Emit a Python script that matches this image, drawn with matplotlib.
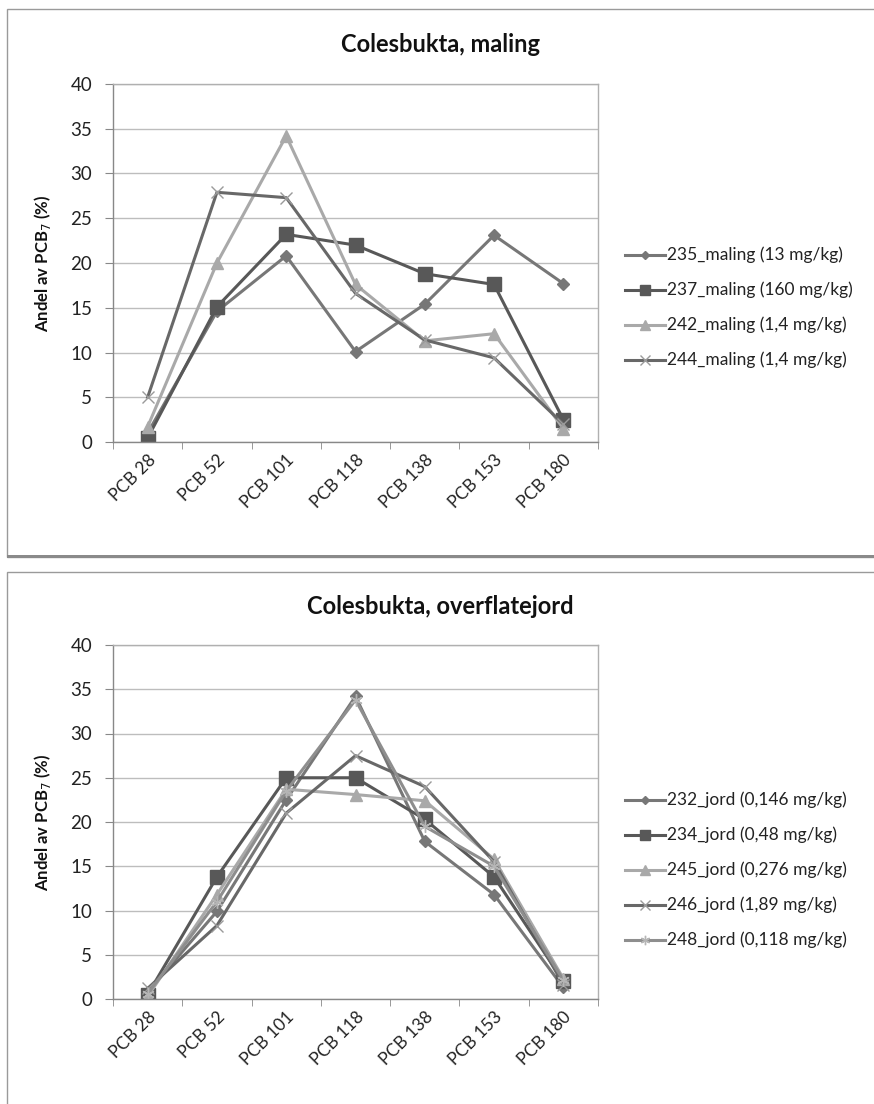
import matplotlib
matplotlib.use("Agg")
import matplotlib.pyplot as plt
from matplotlib.patches import Rectangle
from matplotlib.lines import Line2D

plt.rcParams['font.family'] = ['Lato', 'DejaVu Sans']

categories = ["PCB 28", "PCB 52", "PCB 101", "PCB 118", "PCB 138", "PCB 153", "PCB 180"]

# Top chart: Colesbukta, maling
maling_labels = ["235_maling (13 mg/kg)", "237_maling (160 mg/kg)",
                 "242_maling (1,4 mg/kg)", "244_maling (1,4 mg/kg)"]
m235 = [1.0, 14.6, 20.8, 10.1, 15.4, 23.1, 17.7]
m237 = [0.45, 15.1, 23.2, 22.0, 18.8, 17.6, 2.5]
m242 = [1.7, 20.0, 34.2, 17.6, 11.3, 12.1, 1.5]
m244 = [5.0, 27.9, 27.3, 16.6, 11.4, 9.4, 2.0]

# Bottom chart: Colesbukta, overflatejord
jord_labels = ["232_jord (0,146 mg/kg)", "234_jord (0,48 mg/kg)",
               "245_jord (0,276 mg/kg)", "246_jord (1,89 mg/kg)",
               "248_jord (0,118 mg/kg)"]
j232 = [0.8, 9.9, 22.5, 34.2, 17.8, 11.8, 1.3]
j234 = [0.5, 13.8, 25.0, 25.0, 20.3, 13.8, 2.0]
j245 = [0.3, 11.8, 23.7, 23.1, 22.4, 15.8, 2.3]
j246 = [1.2, 8.3, 21.0, 27.5, 24.0, 15.5, 1.6]
j248 = [0.6, 11.0, 23.5, 33.8, 19.5, 15.0, 2.1]

W, H = 874, 1104
fig = plt.figure(figsize=(W / 100, H / 100), dpi=100)

# chart frames
fig.patches.append(Rectangle((7 / W, 1 - 557 / H), 880 / W, (557 - 9) / H,
                             transform=fig.transFigure, fill=False,
                             edgecolor='#9a9a9a', lw=1.0))
fig.patches.append(Rectangle((7 / W, 1 - 558 / H), 880 / W, 3 / H,
                             transform=fig.transFigure, fill=True,
                             facecolor='#8a8a8a', edgecolor='none'))
fig.patches.append(Rectangle((7 / W, -0.01), 880 / W, 1 - 572 / H + 0.01,
                             transform=fig.transFigure, fill=False,
                             edgecolor='#9a9a9a', lw=1.0))

styles_top = [
    dict(color='#777777', marker='D', ms=6, mfc='#777777', mec='#777777'),
    dict(color='#585858', marker='s', ms=10, mfc='#585858', mec='#585858'),
    dict(color='#a9a9a9', marker='^', ms=9, mfc='#a9a9a9', mec='#a9a9a9'),
    dict(color='#686868', marker='x', ms=9, mfc='#9a9a9a', mec='#9a9a9a', mew=1.0),
]
styles_bot = [
    dict(color='#777777', marker='D', ms=6, mfc='#777777', mec='#777777'),
    dict(color='#585858', marker='s', ms=10, mfc='#585858', mec='#585858'),
    dict(color='#a9a9a9', marker='^', ms=9, mfc='#a9a9a9', mec='#a9a9a9'),
    dict(color='#686868', marker='x', ms=9, mfc='#9a9a9a', mec='#9a9a9a', mew=1.0),
    dict(color='#8e8e8e', marker=(6, 2, 0), ms=9, mfc='#b5b5b5', mec='#b5b5b5', mew=1.0),
]


def make_chart(rect, title, title_y, series, labels, styles, leg_y0):
    ax = fig.add_axes(rect)
    x = list(range(len(categories)))
    for vals, st in zip(series, styles):
        ax.plot(x, vals, lw=2.2, **st)
    ax.set_xlim(-0.5, len(categories) - 0.5)
    ax.set_ylim(0, 40)
    ax.set_yticks(range(0, 41, 5))
    ax.set_xticks(x)
    ax.set_xticklabels(categories, rotation=45, ha='right', rotation_mode='anchor',
                       fontsize=12.5, color='#222222')
    ax.set_xticks([i - 0.5 for i in range(len(categories) + 1)], minor=True)
    ax.tick_params(axis='x', which='major', length=0, pad=7)
    ax.tick_params(axis='x', which='minor', length=5, color='#888888')
    ax.tick_params(axis='y', length=6, color='#888888', labelsize=13.5,
                   labelcolor='#222222', pad=9)
    ax.grid(axis='y', color='#bdbdbd', lw=1.0)
    ax.set_axisbelow(True)
    for s in ['top', 'right']:
        ax.spines[s].set_color('#b0b0b0')
        ax.spines[s].set_linewidth(1.0)
    for s in ['left', 'bottom']:
        ax.spines[s].set_color('#888888')
        ax.spines[s].set_linewidth(1.0)
    ax.set_ylabel('Andel av PCB$_7$ (%)', fontsize=12, fontweight='bold',
                  color='#111111', labelpad=12)
    fig.text(440 / W, 1 - title_y / H, title, ha='center', va='center',
             fontsize=17, fontweight='bold', color='#111111')
    handles = [Line2D([], [], lw=2.2, **st) for st in styles]
    for i, (h, lab) in enumerate(zip(handles, labels)):
        yy = 1 - (leg_y0 + 35 * i) / H
        ln = Line2D([625 / W, 665 / W], [yy, yy], transform=fig.transFigure,
                    color=h.get_color(), lw=2.2)
        fig.lines.append(ln)
        mk = Line2D([645 / W], [yy], transform=fig.transFigure,
                    marker=h.get_marker(), ms=h.get_markersize() * 0.75,
                    mfc=h.get_markerfacecolor(), mec=h.get_markeredgecolor(),
                    mew=h.get_markeredgewidth(), lw=0)
        fig.lines.append(mk)
        fig.text(667 / W, yy, lab, ha='left', va='center', fontsize=12.5,
                 color='#222222')
    return ax


make_chart([113 / W, 1 - 442 / H, 485 / W, 358 / H], 'Colesbukta, maling', 45,
           [m235, m237, m242, m244], maling_labels, styles_top, 255)
make_chart([113 / W, 1 - 999 / H, 485 / W, 354 / H], 'Colesbukta, overflatejord', 607,
           [j232, j234, j245, j246, j248], jord_labels, styles_bot, 800)

fig.savefig('out.png', dpi=100)
